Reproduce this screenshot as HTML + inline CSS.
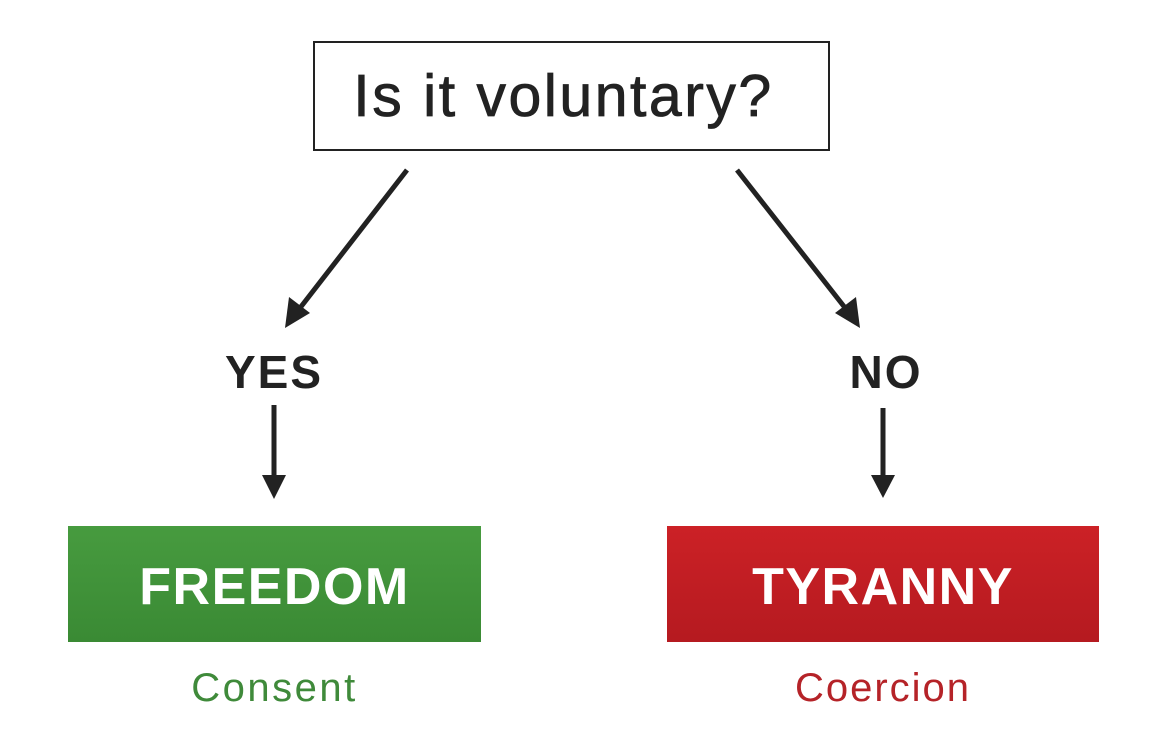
<!DOCTYPE html>
<html><head><style>
body{margin:0;width:1170px;height:748px;background:#fff;position:relative;overflow:hidden;font-family:"Liberation Sans",sans-serif}
.t{position:absolute;text-align:center;white-space:nowrap}
</style></head><body>
<div style="position:absolute;left:313px;top:41px;width:513px;height:106px;border:2px solid #222;background:#fff"></div>
<div class="t" style="left:305px;top:62px;width:517px;font-size:59px;letter-spacing:2.5px;color:#222;-webkit-text-stroke:0.8px #222">Is it voluntary?</div>
<svg width="1170" height="748" style="position:absolute;left:0;top:0">
<g stroke="#222" stroke-width="5" fill="#222">
<line x1="407" y1="170" x2="300" y2="308"/>
<polygon points="285,328 289,297 310,313" stroke="none"/>
<line x1="737" y1="170" x2="846" y2="309"/>
<polygon points="860,328 835,313 856,297" stroke="none"/>
<line x1="274" y1="405" x2="274" y2="480"/>
<polygon points="262,475 286,475 274,499" stroke="none"/>
<line x1="883" y1="408" x2="883" y2="480"/>
<polygon points="871,475 895,475 883,498" stroke="none"/>
</g></svg>
<div class="t" style="left:174px;top:345px;width:200px;font-size:46px;letter-spacing:2px;font-weight:bold;color:#222">YES</div>
<div class="t" style="left:786px;top:345px;width:200px;font-size:46px;letter-spacing:2px;font-weight:bold;color:#222">NO</div>
<div style="position:absolute;left:68px;top:526px;width:413px;height:116px;background:linear-gradient(#479b3f,#3a8a34)"></div>
<div class="t" style="left:68px;top:557px;width:413px;font-size:52px;letter-spacing:1.5px;font-weight:bold;color:#fff">FREEDOM</div>
<div style="position:absolute;left:667px;top:526px;width:432px;height:116px;background:linear-gradient(#cc2126,#b51a20)"></div>
<div class="t" style="left:667px;top:557px;width:432px;font-size:52px;letter-spacing:1.5px;font-weight:bold;color:#fff">TYRANNY</div>
<div class="t" style="left:68px;top:666px;width:413px;font-size:40px;letter-spacing:2.5px;color:#3f8a3a">Consent</div>
<div class="t" style="left:667px;top:666px;width:432px;font-size:40px;letter-spacing:2px;color:#b52328">Coercion</div>
</body></html>
